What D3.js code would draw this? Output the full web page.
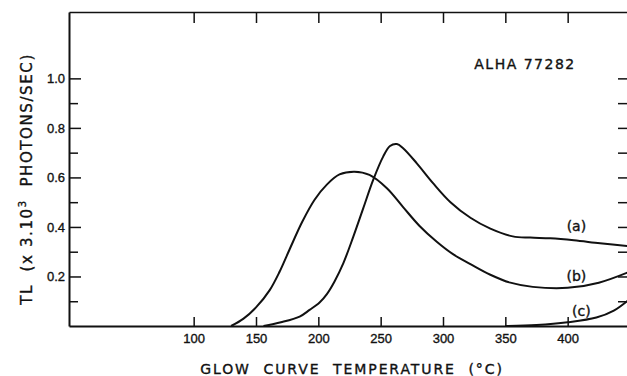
<!DOCTYPE html>
<html>
<head>
<meta charset="utf-8">
<script src="https://cdn.jsdelivr.net/npm/d3@7"></script>
<style>
  body { margin: 0; background: #fff; }
  svg { display: block; font-family: "DejaVu Sans", sans-serif; }
  svg text { fill: #111; stroke: #111; stroke-width: 0.35px; }
  .axis path, .axis line { stroke: #111; }
  .axis text { font-size: 13px; }
</style>
</head>
<body>
<div id="svg-container"></div>
<script>
// glow curve (a): temperature (deg C) and TL
var tempA = [156, 170, 185, 193, 201, 207, 213, 220, 228, 236, 244, 252, 257.5, 263, 268, 279, 292, 306, 322, 338, 356, 370, 386, 405, 426, 450];
var valA  = [0, 0.015, 0.038, 0.065, 0.095, 0.13, 0.18, 0.253, 0.36, 0.475, 0.59, 0.684, 0.727, 0.735, 0.718, 0.657, 0.577, 0.50, 0.437, 0.393, 0.362, 0.357, 0.354, 0.346, 0.334, 0.322];

// glow curve (b)
var tempB = [130, 140, 150, 161, 169, 177, 187, 197, 207, 217, 229, 241, 255, 268, 281, 295, 308, 322, 338, 354, 372, 400, 425, 450];
var valB  = [0, 0.03, 0.075, 0.145, 0.22, 0.31, 0.42, 0.51, 0.572, 0.612, 0.623, 0.61, 0.556, 0.48, 0.405, 0.34, 0.29, 0.25, 0.207, 0.175, 0.158, 0.154, 0.175, 0.22];

// glow curve (c)
var tempC = [350, 375, 400, 423, 437, 450];
var valC  = [0, 0.004, 0.015, 0.034, 0.062, 0.11];

// tick values
var xTicks = [100, 150, 200, 250, 300, 350, 400];
var yMajor = [0.2, 0.4, 0.6, 0.8, 1.0];
var yMinor = [0.1, 0.3, 0.5, 0.7, 0.9];
var yAll = [0.1, 0.2, 0.3, 0.4, 0.5, 0.6, 0.7, 0.8, 0.9, 1.0];

// curve labels
var curveNames = ["(a)", "(b)", "(c)"];
var labelTemp = [407, 407, 411];
var labelVal = [0.384, 0.182, 0.04];

var sample = "ALHA 77282";

var svgWidth = 627, svgHeight = 376;
var margin = { top : 12, left : 69, bottom : 326, right : 630 };

var x = d3.scaleLinear().domain([0, 450]).range([margin.left, margin.right]);
var y = d3.scaleLinear().domain([0, 1.268]).range([margin.bottom, margin.top]);

var svg = d3.select("#svg-container").append("svg")
    .attr("width", svgWidth)
    .attr("height", svgHeight);

// bottom axis, ticks pointing up
svg.append("g")
  .attr("class", "axis")
  .attr("transform", "translate(0," + margin.bottom + ")")
  .call(d3.axisBottom(x).tickValues(xTicks).tickSizeInner(-9).tickSizeOuter(0).tickPadding(8).tickFormat(d3.format("d")))
  .call(function(g) { g.select(".domain").attr("stroke-width", 2); })
  .call(function(g) { g.selectAll("line").attr("stroke-width", 1.5); });

// top axis, ticks pointing down
svg.append("g")
  .attr("class", "axis")
  .attr("transform", "translate(0," + margin.top + ")")
  .call(d3.axisTop(x).tickValues(xTicks).tickSizeInner(-11).tickSizeOuter(0).tickFormat(""))
  .call(function(g) { g.select(".domain").attr("stroke-width", 1.5); })
  .call(function(g) { g.selectAll("line").attr("stroke-width", 1.5); });

// left axis: major ticks with labels
svg.append("g")
  .attr("class", "axis")
  .attr("transform", "translate(" + margin.left + ",0)")
  .call(d3.axisLeft(y).tickValues(yMajor).tickSizeInner(-12).tickSizeOuter(0).tickPadding(4).tickFormat(d3.format(".1f")))
  .call(function(g) { g.select(".domain").attr("stroke-width", 2); })
  .call(function(g) { g.selectAll("line").attr("stroke-width", 1.5); });

// left axis: minor ticks
svg.append("g")
  .attr("class", "axis")
  .attr("transform", "translate(" + margin.left + ",0)")
  .call(d3.axisLeft(y).tickValues(yMinor).tickSizeInner(-9).tickSizeOuter(0).tickFormat(""))
  .call(function(g) { g.select(".domain").remove(); })
  .call(function(g) { g.selectAll("line").attr("stroke-width", 1.5); });

// right axis
svg.append("g")
  .attr("class", "axis")
  .attr("transform", "translate(" + margin.right + ",0)")
  .call(d3.axisRight(y).tickValues(yAll).tickSizeInner(-12).tickSizeOuter(0).tickFormat(""))
  .call(function(g) { g.selectAll("line").attr("stroke-width", 1.5); });

// glow curves
var line = d3.line()
  .x(function(d) { return x(d[0]); })
  .y(function(d) { return y(d[1]); })
  .curve(d3.curveCatmullRom.alpha(0.5));

[[tempA, valA], [tempB, valB], [tempC, valC]].forEach(function(c) {
  svg.append("path")
    .datum(d3.zip(c[0], c[1]))
    .attr("fill", "none")
    .attr("stroke", "#111")
    .attr("stroke-width", 2)
    .attr("d", line);
});

// curve labels
svg.selectAll(".curve-label")
  .data(curveNames)
  .enter()
  .append("text")
    .attr("class", "curve-label")
    .attr("x", function(d, i) { return x(labelTemp[i]); })
    .attr("y", function(d, i) { return y(labelVal[i]); })
    .attr("text-anchor", "middle")
    .attr("font-size", 14)
    .text(function(d) { return d; });

// sample name
svg.append("text")
  .attr("x", 525)
  .attr("y", 69)
  .attr("text-anchor", "middle")
  .attr("font-size", 14)
  .attr("letter-spacing", 1.5)
  .text(sample);

// x-axis title
svg.append("text")
  .attr("x", 352)
  .attr("y", 374)
  .attr("text-anchor", "middle")
  .attr("font-size", 14)
  .attr("letter-spacing", 1.9)
  .style("white-space", "pre")
  .text("GLOW  CURVE  TEMPERATURE  (\u00b0C)");

// y-axis title
var yTitle = svg.append("text")
  .attr("transform", "translate(32,179) rotate(-90)")
  .attr("text-anchor", "middle")
  .attr("font-size", 15)
  .attr("letter-spacing", 1.6)
  .style("white-space", "pre");
yTitle.append("tspan").text("TL  (x 3.10");
yTitle.append("tspan").attr("font-size", 10).attr("dy", -6).text("3");
yTitle.append("tspan").attr("dy", 6).text("  PHOTONS/SEC)");
</script>
</body>
</html>
